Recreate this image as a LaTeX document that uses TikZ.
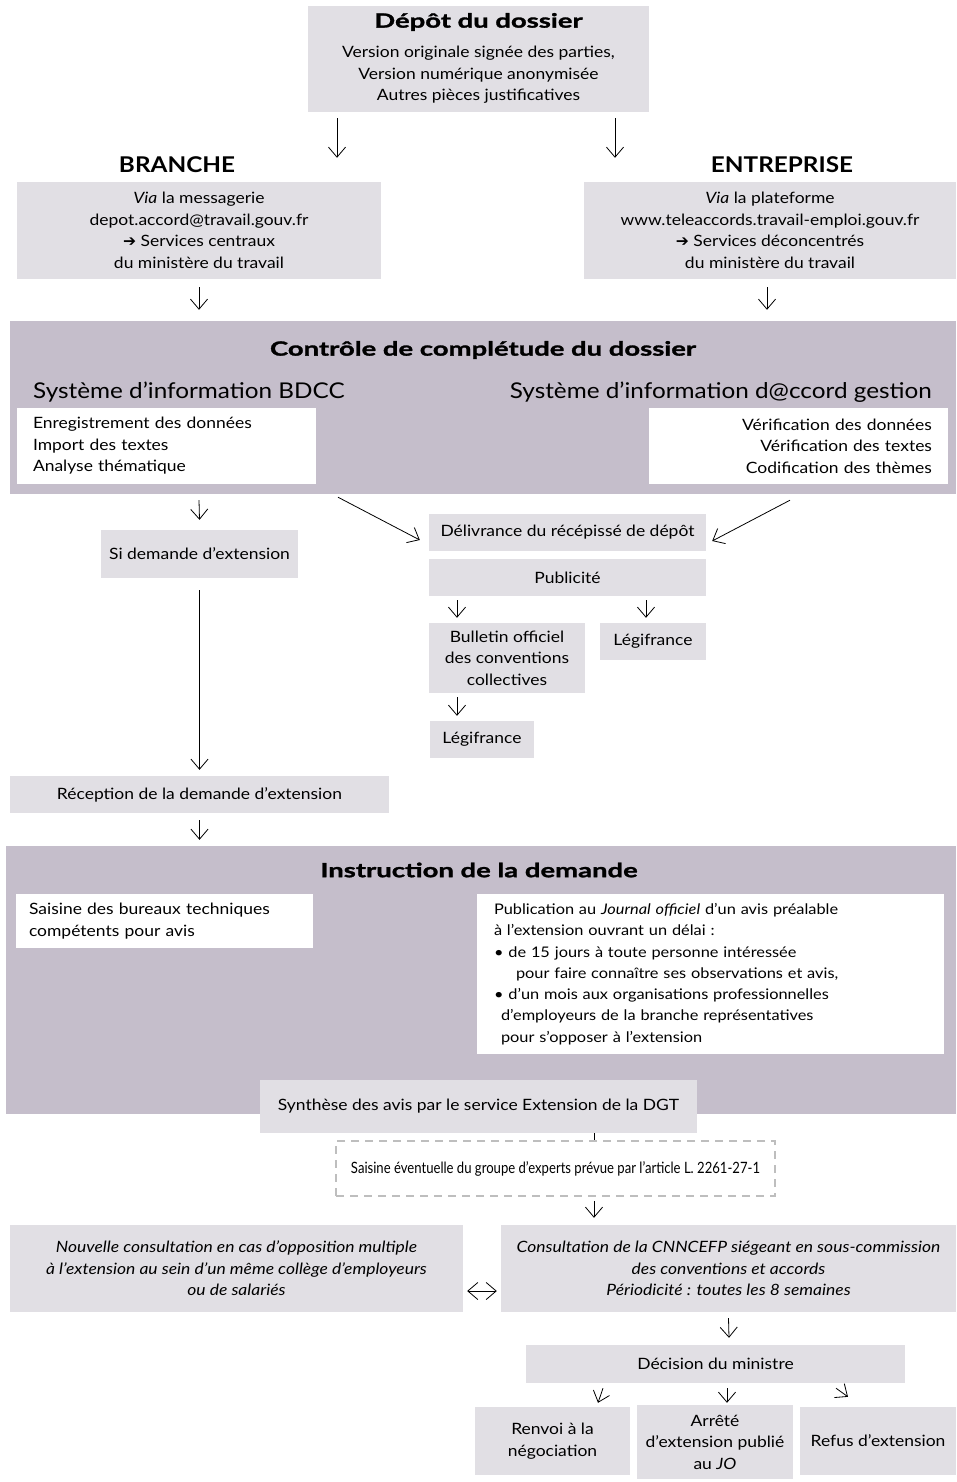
\documentclass[tikz,border=0pt]{standalone}
\usepackage{fontspec}
\setmainfont{Lato}[FakeStretch=1.12]
\newfontfamily\titlefamily{Lato}[FakeStretch=1.4,FakeBold=1.5]
\newfontfamily\condfamily{Lato}[FakeStretch=0.84]
\newfontfamily\symfont{DejaVu Sans}
\usetikzlibrary{arrows.meta}

\definecolor{boxgrey}{RGB}{225,223,228}
\definecolor{panelgrey}{RGB}{197,190,203}
\definecolor{dashgrey}{RGB}{190,190,190}

\newcommand{\bodyfont}{\fontsize{15.6}{21.5}\selectfont}
\newcommand{\smallbody}{\fontsize{14.6}{21.3}\selectfont}
\newcommand{\titlefont}{\titlefamily\fontsize{19.6}{24}\selectfont\bfseries}
\newcommand{\headfont}{\fontsize{21.7}{26}\selectfont}

\tikzset{
  box/.style={fill=boxgrey, inner sep=0pt, align=center, font=\bodyfont},
  panel/.style={fill=panelgrey, inner sep=0pt},
  whitebox/.style={fill=white, inner ysep=0pt, font=\bodyfont},
  flow/.style={-{Straight Barb[length=10pt,width=17pt]}, line width=0.8pt},
}

\begin{document}
\begin{tikzpicture}[x=1pt,y=-1pt]
    \path[use as bounding box] (0,0) rectangle (956,1482);

    % depot
    \node (depot) at (478.5,59) [box, minimum width=341pt, minimum height=106pt] {};
    \node (depot-title) at (478.5,22) [font=\titlefont] {Dépôt du dossier};
    \node (depot-text) at (478.5,75) [align=center, font=\bodyfont] {Version originale signée des parties,\\ Version numérique anonymisée\\ Autres pièces justificatives};

    \node (branche-title) at (177,165) [font=\headfont\bfseries] {BRANCHE};
    \node (entreprise-title) at (782,165) [font=\headfont\bfseries] {ENTREPRISE};

    \node (branche) at (199,230.5) [box, minimum width=364pt, minimum height=97pt] {\textit{Via} la messagerie\\ depot.accord@travail.gouv.fr\\ {\symfont ➔} Services centraux\\ du ministère du travail};
    \node (entreprise) at (770,230.5) [box, minimum width=372pt, minimum height=97pt] {\textit{Via} la plateforme\\ www.teleaccords.travail-emploi.gouv.fr\\ {\symfont ➔} Services déconcentrés\\ du ministère du travail};

    % controle
    \node (controle) at (483,407.5) [panel, minimum width=946pt, minimum height=173pt] {};
    \node (controle-title) at (483,350) [font=\titlefont] {Contrôle de complétude du dossier};
    \node (bdcc-title) at (33,392) [anchor=west, inner sep=0pt, font=\headfont] {Système d’information BDCC};
    \node (daccord-title) at (932,392) [anchor=east, inner sep=0pt, font=\headfont] {Système d’information d@ccord gestion};
    \node (bdcc) at (166.5,446) [whitebox, inner xsep=16pt, text width=267pt, minimum height=76pt, align=left] {Enregistrement des données\\ Import des textes\\ Analyse thématique};
    \node (daccord) at (798.5,446) [whitebox, inner xsep=16pt, text width=267pt, minimum height=76pt, align=right] {Vérification des données\\ Vérification des textes\\ Codification des thèmes};

    \node (si-extension) at (199.5,554) [box, minimum width=197pt, minimum height=48pt] {Si demande d’extension};
    \node (delivrance) at (567.5,532.5) [box, minimum width=277pt, minimum height=37pt] {Délivrance du récépissé de dépôt};
    \node (publicite) at (567.5,577.5) [box, minimum width=277pt, minimum height=37pt] {Publicité};
    \node (bulletin) at (507,658) [box, minimum width=156pt, minimum height=70pt] {Bulletin officiel\\ des conventions\\ collectives};
    \node (legifrance-r) at (653,641.5) [box, minimum width=106pt, minimum height=37pt] {Légifrance};
    \node (legifrance-b) at (482,739.5) [box, minimum width=104pt, minimum height=37pt] {Légifrance};
    \node (reception) at (199.5,794.5) [box, minimum width=379pt, minimum height=37pt] {Réception de la demande d’extension};

    % instruction
    \node (instruction) at (481,980) [panel, minimum width=950pt, minimum height=268pt] {};
    \node (instruction-title) at (479,870) [font=\titlefont] {Instruction de la demande};
    \node (saisine) at (164.5,921) [whitebox, inner xsep=13pt, text width=271pt, minimum height=54pt, align=left] {Saisine des bureaux techniques\\ compétents pour avis};
    \node (publication) at (710.5,974) [whitebox, font=\smallbody, inner xsep=17pt, text width=433pt, minimum height=160pt, align=left] {Publication au \textit{Journal officiel} d’un avis préalable\\
        à l’extension ouvrant un délai :\\
        • de 15 jours à toute personne intéressée\\
        \hspace*{22pt}pour faire connaître ses observations et avis,\\
        • d’un mois aux organisations professionnelles\\
        \hspace*{7pt}d’employeurs de la branche représentatives\\
        \hspace*{7pt}pour s’opposer à l’extension};

    \node (synthese) at (478.5,1106.5) [box, minimum width=437pt, minimum height=53pt] {Synthèse des avis par le service Extension de la DGT};
    \node (experts) at (555.5,1168.5) [inner sep=0pt, font=\condfamily\bodyfont, draw=dashgrey, line width=1.5pt, dash pattern=on 8pt off 6pt, minimum width=439pt, minimum height=55pt] {Saisine éventuelle du groupe d’experts prévue par l’article L. 2261-27-1};

    \node (nouvelle) at (236.5,1268.5) [box, font=\bodyfont\itshape, minimum width=453pt, minimum height=87pt] {Nouvelle consultation en cas d’opposition multiple\\ à l’extension au sein d’un même collège d’employeurs\\ ou de salariés};
    \node (consultation) at (728.5,1268.5) [box, font=\bodyfont\itshape, minimum width=455pt, minimum height=87pt] {Consultation de la CNNCEFP siégeant en sous-commission\\ des conventions et accords\\ Périodicité : toutes les 8 semaines};

    \node (decision) at (715.5,1364) [box, minimum width=379pt, minimum height=38pt] {Décision du ministre};
    \node (renvoi) at (552.5,1441) [box, minimum width=155pt, minimum height=68pt] {Renvoi à la\\ négociation};
    \node (arrete) at (715,1442) [box, minimum width=156pt, minimum height=74pt] {Arrêté\\ d’extension publié\\ au \textit{JO}};
    \node (refus) at (878,1441) [box, minimum width=156pt, minimum height=68pt] {Refus d’extension};

    % arrows
    \draw[flow] ([xshift=-141.5pt,yshift=-6pt]depot.south) -- ([xshift=138pt,yshift=24pt]branche.north);
    \draw[flow] ([xshift=136.5pt,yshift=-6pt]depot.south) -- ([xshift=-155pt,yshift=24pt]entreprise.north);
    \draw[flow] ([yshift=-8pt]branche.south) -- ([xshift=-284pt,yshift=11pt]controle.north);
    \draw[flow] ([xshift=-3pt,yshift=-8pt]entreprise.south) -- ([xshift=284pt,yshift=11pt]controle.north);
    \draw[flow] ([xshift=-284pt,yshift=-6pt]controle.south) -- ([yshift=10pt]si-extension.north);
    \draw[flow] ([xshift=-145pt,yshift=-3pt]controle.south) -- ([xshift=-9pt,yshift=-7.5pt]delivrance.west);
    \draw[flow] ([xshift=307pt,yshift=-6pt]controle.south) -- ([xshift=6pt,yshift=-8.5pt]delivrance.east);
    \draw[flow] ([yshift=-12pt]si-extension.south) -- ([yshift=6pt]reception.north);
    \draw[flow] ([xshift=-110.5pt,yshift=-4pt]publicite.south) -- ([xshift=-50pt,yshift=5pt]bulletin.north);
    \draw[flow] ([xshift=78.5pt,yshift=-4pt]publicite.south) -- ([xshift=-7pt,yshift=5pt]legifrance-r.north);
    \draw[flow] ([xshift=-50pt,yshift=-4pt]bulletin.south) -- ([xshift=-25pt,yshift=5pt]legifrance-b.north);
    \draw[flow] ([yshift=-7pt]reception.south) -- ([xshift=-281.5pt,yshift=6pt]instruction.north);
    \draw[line width=0.8pt] ([xshift=115.5pt]synthese.south) -- ([xshift=38.5pt]experts.north);
    \draw[flow] ([xshift=38.5pt,yshift=-4pt]experts.south) -- ([xshift=-134.5pt,yshift=7pt]consultation.north);
    \draw[flow, {Straight Barb[length=10pt,width=17pt]}-{Straight Barb[length=10pt,width=17pt]}] ([xshift=4pt,yshift=-22.5pt]nouvelle.east) -- ([xshift=-4pt,yshift=-22.5pt]consultation.west);
    \draw[flow] ([yshift=-6pt]consultation.south) -- ([xshift=13.5pt,yshift=7pt]decision.north);
    \draw[flow] ([xshift=-112.5pt,yshift=-5pt]decision.south) -- ([xshift=45.5pt,yshift=4pt]renvoi.north);
    \draw[flow] ([xshift=11.5pt,yshift=-5pt]decision.south) -- ([xshift=12pt,yshift=2pt]arrete.north);
    \draw[flow] ([xshift=120.5pt,yshift=-5pt]decision.south) -- ([xshift=-30pt,yshift=10pt]refus.north);
\end{tikzpicture}
\end{document}
